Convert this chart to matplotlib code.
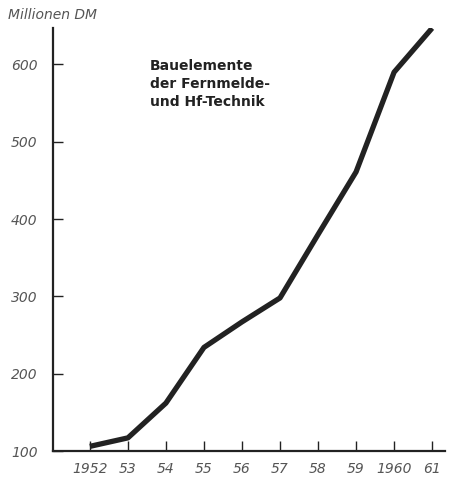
import matplotlib.pyplot as plt

# Umsatz Bauelemente der Fernmelde- und Hf-Technik, Millionen DM
years = [1952, 1953, 1954, 1955, 1956, 1957, 1958, 1959, 1960, 1961]
values = [106, 117, 162, 234, 267, 298, 380, 461, 590, 647]
year_labels = ['1952', '53', '54', '55', '56', '57', '58', '59', '1960', '61']
y_ticks = [100, 200, 300, 400, 500, 600]

ink = '#222222'
grey = '#555555'

fig = plt.figure(figsize=(4.58, 4.8), dpi=100)
ax = fig.add_axes([0.1157, 0.0604, 0.856, 0.881])

ax.plot(years, values, color=ink, lw=3.8, solid_capstyle='butt', solid_joinstyle='round')

ax.set_xlim(1951.03, 1961.34)
ax.set_ylim(100, 647)

for side in ('top', 'right'):
    ax.spines[side].set_visible(False)
for side in ('left', 'bottom'):
    ax.spines[side].set_color(ink)
    ax.spines[side].set_linewidth(1.6)

ax.set_xticks(years)
ax.set_xticklabels(year_labels, fontstyle='italic', fontsize=10, color=grey)
ax.set_yticks(y_ticks)
ax.set_yticklabels([str(v) for v in y_ticks], fontstyle='italic', fontsize=10, color=grey)
ax.tick_params(axis='both', direction='in', length=7, width=1.0, color=ink)
ax.tick_params(axis='x', pad=8)
ax.tick_params(axis='y', pad=11)

fig.text(8 / 458, 1 - 15 / 480, 'Millionen DM', fontstyle='italic', fontsize=10,
         color=grey, ha='left', va='center')
fig.text(150 / 458, 1 - 84 / 480, 'Bauelemente\nder Fernmelde-\nund Hf-Technik',
         fontweight='bold', fontsize=10, color=ink, ha='left', va='center',
         linespacing=1.35)

fig.savefig('out.png', dpi=100, facecolor='white')
